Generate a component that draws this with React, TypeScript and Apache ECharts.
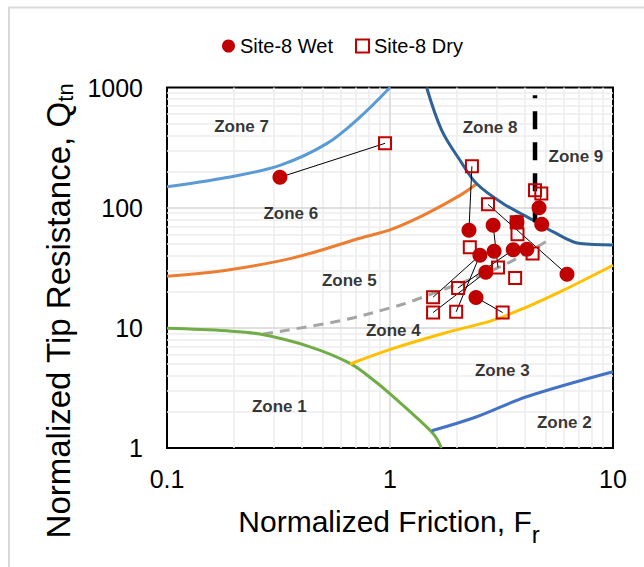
import React, { useEffect, useRef } from 'react';
import * as echarts from 'echarts';

const FONT = '"Liberation Sans", Arial, sans-serif';
const RED = '#C00000';

// Axis ticks
const xTicks = [0.1, 1, 10];
const yTicks = [1, 10, 100, 1000];
const xMinor = [0.2, 0.3, 0.4, 0.5, 0.6, 0.7, 0.8, 0.9, 2, 3, 4, 5, 6, 7, 8, 9];
const yMinor = [2, 3, 4, 5, 6, 7, 8, 9, 20, 30, 40, 50, 60, 70, 80, 90, 200, 300, 400, 500, 600, 700, 800, 900];
const xMajor = [1];
const yMajor = [10, 100];

// Measured points
const wetPoints: [number, number][] = [
  [0.321, 179], [2.26, 64.9], [2.9, 71.4], [3.71, 75.6], [4.66, 99.8], [4.79, 72.8],
  [2.53, 40.2], [2.93, 43.4], [3.57, 44.7], [4.11, 45.1], [2.69, 29.0], [6.22, 27.9], [2.43, 17.9],
];
const dryPoints: [number, number][] = [
  [0.95, 343], [2.33, 221], [4.47, 139.6], [4.77, 131], [2.75, 106.7], [3.7, 75.6], [3.73, 60.1],
  [2.28, 46.9], [4.36, 41.5], [3.05, 31.8], [3.64, 26.0], [2.02, 21.5], [1.56, 18.0], [1.56, 13.4],
  [1.98, 13.6], [3.2, 13.4],
];
// [wet index, dry index]
const links: [number, number][] = [
  [0, 0], [1, 1], [11, 4], [4, 3], [2, 9], [6, 12], [6, 14], [10, 13], [8, 11], [12, 15],
];

// Zone boundaries
const zone76: [number, number][] = [[0.1, 149], [0.185, 178], [0.321, 225], [0.52, 341], [0.733, 567], [1.0, 1000]];
const zone65: [number, number][] = [[0.1, 26.9], [0.185, 30.2], [0.368, 38.2], [0.733, 55.7], [1.035, 67], [1.46, 89.3], [2.06, 126.5], [2.45, 158]];
const zone89: [number, number][] = [[1.46, 1000], [1.706, 440], [2.06, 248], [2.45, 158], [3.22, 108], [4.39, 78.6], [5.4, 62.8], [7.11, 50.3], [10, 49]];
const zone54: [number, number][] = [[0.27, 8.87], [0.618, 11.6], [1.035, 14.9], [1.27, 16.8], [3.11, 32.1], [5.13, 53.6]];
const zone1: [number, number][] = [[0.1, 9.9], [0.185, 9.44], [0.261, 8.87], [0.438, 6.95], [0.662, 5.06], [0.842, 3.68], [1.035, 2.67], [1.51, 1.41], [1.62, 1.2], [1.7, 1.0]];
const zone43: [number, number][] = [[0.662, 5.0], [1.035, 6.74], [1.73, 8.98], [2.91, 11.6], [4.1, 14.9], [5.78, 19.9], [10, 33.2]];
const zone32: [number, number][] = [[1.537, 1.39], [2.45, 1.82], [4.1, 2.67], [10, 4.31]];
const zone9v: [number, number][] = [[4.47, 75.6], [4.47, 860]];

const zoneLabels = [
  { name: 'Zone 7', value: [0.216, 475] },
  { name: 'Zone 8', value: [2.81, 463] },
  { name: 'Zone 9', value: [6.82, 269] },
  { name: 'Zone 6', value: [0.359, 89.3] },
  { name: 'Zone 5', value: [0.657, 24.9] },
  { name: 'Zone 4', value: [1.035, 9.57] },
  { name: 'Zone 3', value: [3.19, 4.39] },
  { name: 'Zone 1', value: [0.319, 2.2] },
  { name: 'Zone 2', value: [6.05, 1.64] },
];

const fmt = (v: number) => String(parseFloat(Number(v).toPrecision(4)));

function curve(name: string, data: [number, number][], color: string, type: any = 'solid', width = 3, smooth: any = 0.35) {
  return {
    name, type: 'line', data, smooth, showSymbol: false, symbol: 'none',
    lineStyle: { color, width, type, cap: 'butt' }, z: 10, silent: true, clip: true,
  };
}

export default function App() {
  const ref = useRef<HTMLDivElement>(null);
  useEffect(() => {
    const chart = echarts.init(ref.current!, null, { renderer: 'svg' });
    const gridLines = [
      ...xMinor.map((v) => ({ xAxis: v, lineStyle: { color: '#ececec', width: 1.5, type: 'solid' } })),
      ...yMinor.map((v) => ({ yAxis: v, lineStyle: { color: '#ececec', width: 1.5, type: 'solid' } })),
      ...xMajor.map((v) => ({ xAxis: v, lineStyle: { color: '#d6d6d6', width: 1.5, type: 'solid' } })),
      ...yMajor.map((v) => ({ yAxis: v, lineStyle: { color: '#d6d6d6', width: 1.5, type: 'solid' } })),
    ];
    const linkSeries = links.map(([w, d], i) => ({
      name: 'link' + i, type: 'line', data: [wetPoints[w], dryPoints[d]], showSymbol: false, symbol: 'none',
      lineStyle: { color: '#000', width: 1 }, z: 11, silent: true,
    }));
    const option: any = {
      animation: false,
      backgroundColor: '#fff',
      textStyle: { fontFamily: FONT },
      grid: { left: 167, top: 87.5, right: 31, bottom: 119, show: true, borderColor: '#000', borderWidth: 2, backgroundColor: 'transparent' },
      legend: {
        left: 217, top: 31, itemGap: 22, itemWidth: 13, itemHeight: 13,
        textStyle: { fontSize: 20, color: '#000', fontFamily: FONT },
        data: [
          { name: 'Site-8 Wet', icon: 'circle', itemStyle: { color: RED } },
          { name: 'Site-8 Dry', icon: 'rect', itemStyle: { color: 'rgba(255,255,255,0)', borderColor: RED, borderWidth: 2 } },
        ],
      },
      xAxis: {
        type: 'log', logBase: 10, min: xTicks[0], max: xTicks[xTicks.length - 1],
        axisLine: { show: false }, axisTick: { show: false }, splitLine: { show: false },
        axisLabel: { fontSize: 25, color: '#000', margin: 18, fontFamily: FONT, formatter: fmt, showMinLabel: true, showMaxLabel: true },
      },
      yAxis: {
        type: 'log', logBase: 10, min: yTicks[0], max: yTicks[yTicks.length - 1],
        axisLine: { show: false }, axisTick: { show: false }, splitLine: { show: false },
        axisLabel: { fontSize: 25, color: '#000', margin: 24, fontFamily: FONT, formatter: fmt, showMinLabel: true, showMaxLabel: true },
      },
      graphic: [
        { type: 'rect', shape: { x: 9, y: 7.5, width: 1000, height: 1000 }, style: { fill: 'none', stroke: '#d9d9d9', lineWidth: 2 }, silent: true, z: -10 },
        {
          type: 'text', x: 389, y: 521, silent: true,
          style: {
            text: '{a|Normalized Friction, F}{b|r}', textAlign: 'center', textVerticalAlign: 'middle', fill: '#000',
            rich: {
              a: { fontSize: 30, fontFamily: FONT, fill: '#000' },
              b: { fontSize: 24, fontFamily: FONT, fill: '#000', padding: [26, 0, 0, 0] },
            },
          },
        },
        {
          type: 'text', x: 58, y: 311, rotation: Math.PI / 2, silent: true,
          style: {
            text: '{a|Normalized Tip Resistance, Q}{b|tn}', textAlign: 'center', textVerticalAlign: 'middle', fill: '#000',
            rich: {
              a: { fontSize: 33, fontFamily: FONT, fill: '#000' },
              b: { fontSize: 22, fontFamily: FONT, fill: '#000', padding: [14, 0, 0, 0] },
            },
          },
        },
      ],
      series: [
        {
          name: 'grid', type: 'line', data: [], z: 1, silent: true,
          markLine: { z: 1, silent: true, symbol: ['none', 'none'], label: { show: false }, data: gridLines },
        },
        curve('zone76', zone76, '#5B9BD5'),
        curve('zone65', zone65, '#ED7D31'),
        curve('zone89', zone89, '#2F6296'),
        curve('zone54', zone54, '#A5A5A5', [10, 7]),
        curve('zone1', zone1, '#70AD47'),
        curve('zone43', zone43, '#FFC000'),
        curve('zone32', zone32, '#4472C4'),
        curve('zone9v', zone9v, '#000', [18, 13], 4.5, false),
        ...linkSeries,
        {
          name: 'Site-8 Dry', type: 'scatter', data: dryPoints, symbol: 'rect', symbolSize: 12, z: 12,
          itemStyle: { color: 'rgba(255,255,255,0)', borderColor: RED, borderWidth: 2, opacity: 1 },
        },
        {
          name: 'Site-8 Wet', type: 'scatter', data: wetPoints, symbol: 'circle', symbolSize: 15, z: 13,
          itemStyle: { color: RED, opacity: 1 },
        },
        {
          name: 'zones', type: 'scatter', data: zoneLabels, symbolSize: 1, z: 14, silent: true,
          itemStyle: { color: 'rgba(0,0,0,0)' },
          label: { show: true, position: 'inside', formatter: '{b}', fontSize: 17, fontWeight: 'bold', color: '#000', fontFamily: FONT },
        },
      ],
    };
    chart.setOption(option);
    return () => chart.dispose();
  }, []);
  return <div ref={ref} style={{ position: 'absolute', left: 0, top: 0, width: 644, height: 567 }} />;
}
